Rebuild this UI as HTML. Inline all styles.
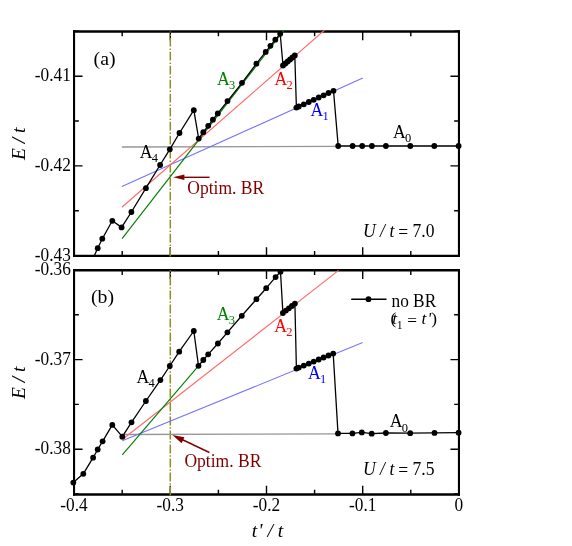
<!DOCTYPE html>
<html><head><meta charset="utf-8"><title>chart</title>
<style>
html,body{margin:0;padding:0;background:#fff;}
body{width:572px;height:546px;position:relative;overflow:hidden;font-family:"Liberation Serif",serif;}
#w{position:absolute;left:0;top:0;width:572px;height:546px;will-change:transform;}
svg text{font-family:"Liberation Serif",serif;}
</style></head><body><div id="w">
<svg width="572" height="546" viewBox="0 0 572 546" style="position:absolute;left:0;top:0"><defs><clipPath id="ca"><rect x="70.05" y="30.3" width="392.9" height="226.8"/></clipPath><clipPath id="cb"><rect x="70.05" y="269.1" width="392.9" height="226.6"/></clipPath></defs><g stroke="#000" stroke-width="1.4" fill="none"><path d="M74.0 31.5v8.7M74.0 255.9v-8.7"/><path d="M122.2 31.5v4.8M122.2 255.9v-4.8"/><path d="M170.3 31.5v8.7M170.3 255.9v-8.7"/><path d="M218.4 31.5v4.8M218.4 255.9v-4.8"/><path d="M266.5 31.5v8.7M266.5 255.9v-8.7"/><path d="M314.6 31.5v4.8M314.6 255.9v-4.8"/><path d="M362.7 31.5v8.7M362.7 255.9v-8.7"/><path d="M410.8 31.5v4.8M410.8 255.9v-4.8"/><path d="M458.9 31.5v8.7M458.9 255.9v-8.7"/><path d="M74.05 31.2h4.8M458.95 31.2h-4.8"/><path d="M74.05 76.2h8.5M458.95 76.2h-8.5"/><path d="M74.05 121.0h4.8M458.95 121.0h-4.8"/><path d="M74.05 165.9h8.5M458.95 165.9h-8.5"/><path d="M74.05 210.8h4.8M458.95 210.8h-4.8"/><path d="M74.05 255.8h8.5M458.95 255.8h-8.5"/></g><path d="M73.0 31.5H460.0M73.0 255.9H460.0" stroke="#000" stroke-width="2.4" fill="none"/><path d="M74.05 30.3V257.1M458.95 30.3V257.1" stroke="#000" stroke-width="2.1" fill="none"/><g clip-path="url(#ca)"><line x1="170.3" y1="31.5" x2="170.3" y2="257.9" stroke="#8f8f1c" stroke-width="1.5" stroke-dasharray="8.8 1.9 1.4 1.9" stroke-dashoffset="7.7"/><line x1="121.9" y1="147.0" x2="338.2" y2="146.3" stroke="#969696" stroke-width="1.3"/><line x1="121.9" y1="186.5" x2="362.8" y2="78.1" stroke="#7474ff" stroke-width="1.1"/><line x1="121.9" y1="207.3" x2="326.6" y2="28.3" stroke="#ff6a6a" stroke-width="1.15"/><line x1="122.1" y1="238.6" x2="284.5" y2="29.6" stroke="#008000" stroke-width="1.15"/><polyline points="91.5,262.0 97.7,248.2 102.3,238.7 112.3,220.8 121.6,227.4 131.4,212.0 145.9,188.2 160.1,165.0 169.8,149.3 179.5,133.0 193.8,110.2 198.7,138.6 203.3,132.2 208.2,125.8 212.9,119.7 217.8,113.4 227.5,101.1 242.0,82.8 256.4,63.7 265.7,51.9 270.4,45.8 275.3,39.7 280.2,33.8 283.0,65.5 285.4,63.5 287.7,61.5 290.1,59.5 292.4,57.5 294.8,55.5 296.4,107.6 298.8,106.5 303.8,104.3 308.8,102.0 313.7,99.8 318.7,97.5 323.6,95.3 328.5,93.0 333.5,90.8 338.2,146.0 352.6,146.0 362.2,146.0 371.9,146.0 385.9,146.0 410.3,146.0 434.3,146.0 458.6,146.0" fill="none" stroke="#000" stroke-width="1.3" stroke-linejoin="round"/><circle cx="97.7" cy="248.2" r="2.9"/><circle cx="102.3" cy="238.7" r="2.9"/><circle cx="112.3" cy="220.8" r="2.9"/><circle cx="121.6" cy="227.4" r="2.9"/><circle cx="131.4" cy="212.0" r="2.9"/><circle cx="145.9" cy="188.2" r="2.9"/><circle cx="160.1" cy="165.0" r="2.9"/><circle cx="169.8" cy="149.3" r="2.9"/><circle cx="179.5" cy="133.0" r="2.9"/><circle cx="193.8" cy="110.2" r="2.9"/><circle cx="198.7" cy="138.6" r="2.9"/><circle cx="203.3" cy="132.2" r="2.9"/><circle cx="208.2" cy="125.8" r="2.9"/><circle cx="212.9" cy="119.7" r="2.9"/><circle cx="217.8" cy="113.4" r="2.9"/><circle cx="227.5" cy="101.1" r="2.9"/><circle cx="242.0" cy="82.8" r="2.9"/><circle cx="256.4" cy="63.7" r="2.9"/><circle cx="265.7" cy="51.9" r="2.9"/><circle cx="270.4" cy="45.8" r="2.9"/><circle cx="275.3" cy="39.7" r="2.9"/><circle cx="280.2" cy="33.8" r="2.9"/><circle cx="283.0" cy="65.5" r="2.9"/><circle cx="285.4" cy="63.5" r="2.9"/><circle cx="287.7" cy="61.5" r="2.9"/><circle cx="290.1" cy="59.5" r="2.9"/><circle cx="292.4" cy="57.5" r="2.9"/><circle cx="294.8" cy="55.5" r="2.9"/><circle cx="296.4" cy="107.6" r="2.9"/><circle cx="298.8" cy="106.5" r="2.9"/><circle cx="303.8" cy="104.3" r="2.9"/><circle cx="308.8" cy="102.0" r="2.9"/><circle cx="313.7" cy="99.8" r="2.9"/><circle cx="318.7" cy="97.5" r="2.9"/><circle cx="323.6" cy="95.3" r="2.9"/><circle cx="328.5" cy="93.0" r="2.9"/><circle cx="333.5" cy="90.8" r="2.9"/><circle cx="338.2" cy="146.0" r="2.9"/><circle cx="352.6" cy="146.0" r="2.9"/><circle cx="362.2" cy="146.0" r="2.9"/><circle cx="371.9" cy="146.0" r="2.9"/><circle cx="385.9" cy="146.0" r="2.9"/><circle cx="410.3" cy="146.0" r="2.9"/><circle cx="434.3" cy="146.0" r="2.9"/><circle cx="458.6" cy="146.0" r="2.9"/></g><g stroke="#800000" fill="#800000"><line x1="183" y1="177.3" x2="209.6" y2="177.3" stroke-width="1.4"/><path d="M173.1 177.3L184.4 174.5V180.1Z" stroke="none"/></g><g stroke="#000" stroke-width="1.4" fill="none"><path d="M74.0 270.3v8.7M74.0 494.5v-8.7"/><path d="M122.2 270.3v4.8M122.2 494.5v-4.8"/><path d="M170.3 270.3v8.7M170.3 494.5v-8.7"/><path d="M218.4 270.3v4.8M218.4 494.5v-4.8"/><path d="M266.5 270.3v8.7M266.5 494.5v-8.7"/><path d="M314.6 270.3v4.8M314.6 494.5v-4.8"/><path d="M362.7 270.3v8.7M362.7 494.5v-8.7"/><path d="M410.8 270.3v4.8M410.8 494.5v-4.8"/><path d="M458.9 270.3v8.7M458.9 494.5v-8.7"/><path d="M74.05 270.0h8.5M458.95 270.0h-8.5"/><path d="M74.05 314.8h4.8M458.95 314.8h-4.8"/><path d="M74.05 359.6h8.5M458.95 359.6h-8.5"/><path d="M74.05 404.4h4.8M458.95 404.4h-4.8"/><path d="M74.05 449.2h8.5M458.95 449.2h-8.5"/><path d="M74.05 494.0h4.8M458.95 494.0h-4.8"/></g><path d="M73.0 270.3H460.0M73.0 494.5H460.0" stroke="#000" stroke-width="2.4" fill="none"/><path d="M74.05 269.1V495.7M458.95 269.1V495.7" stroke="#000" stroke-width="2.1" fill="none"/><g clip-path="url(#cb)"><line x1="170.3" y1="270.3" x2="170.3" y2="496.5" stroke="#8f8f1c" stroke-width="1.5" stroke-dasharray="8.8 1.9 1.4 1.9" stroke-dashoffset="7.7"/><line x1="122.3" y1="434.5" x2="338.0" y2="433.8" stroke="#969696" stroke-width="1.3"/><line x1="122.3" y1="440.8" x2="362.7" y2="342.6" stroke="#7474ff" stroke-width="1.1"/><line x1="122.3" y1="439.5" x2="338.6" y2="270.4" stroke="#ff6a6a" stroke-width="1.15"/><line x1="122.3" y1="454.9" x2="198.5" y2="365.8" stroke="#008000" stroke-width="1.15"/><polyline points="73.3,482.6 83.3,473.8 93.1,457.7 97.7,449.5 102.6,441.3 112.3,424.9 122.3,436.7 131.5,422.3 145.9,401.0 160.4,380.1 169.8,366.0 179.2,351.7 193.8,331.0 198.5,365.8 203.3,360.0 208.2,354.3 217.9,343.5 227.4,332.3 241.8,315.8 256.4,299.2 266.2,288.2 275.6,277.1 280.5,271.7 282.9,313.0 285.9,310.6 288.9,308.3 291.9,306.0 294.9,303.6 296.4,368.6 298.8,367.6 303.8,365.6 308.8,363.6 313.7,361.6 318.7,359.5 323.6,357.5 328.5,355.5 333.2,353.6 338.0,433.4 352.4,433.4 361.8,432.4 371.7,433.7 385.9,433.0 410.2,433.2 434.5,432.9 458.6,432.7" fill="none" stroke="#000" stroke-width="1.3" stroke-linejoin="round"/><circle cx="73.3" cy="482.6" r="2.9"/><circle cx="83.3" cy="473.8" r="2.9"/><circle cx="93.1" cy="457.7" r="2.9"/><circle cx="97.7" cy="449.5" r="2.9"/><circle cx="102.6" cy="441.3" r="2.9"/><circle cx="112.3" cy="424.9" r="2.9"/><circle cx="122.3" cy="436.7" r="2.9"/><circle cx="131.5" cy="422.3" r="2.9"/><circle cx="145.9" cy="401.0" r="2.9"/><circle cx="160.4" cy="380.1" r="2.9"/><circle cx="169.8" cy="366.0" r="2.9"/><circle cx="179.2" cy="351.7" r="2.9"/><circle cx="193.8" cy="331.0" r="2.9"/><circle cx="198.5" cy="365.8" r="2.9"/><circle cx="203.3" cy="360.0" r="2.9"/><circle cx="208.2" cy="354.3" r="2.9"/><circle cx="217.9" cy="343.5" r="2.9"/><circle cx="227.4" cy="332.3" r="2.9"/><circle cx="241.8" cy="315.8" r="2.9"/><circle cx="256.4" cy="299.2" r="2.9"/><circle cx="266.2" cy="288.2" r="2.9"/><circle cx="275.6" cy="277.1" r="2.9"/><circle cx="280.5" cy="271.7" r="2.9"/><circle cx="282.9" cy="313.0" r="2.9"/><circle cx="285.9" cy="310.6" r="2.9"/><circle cx="288.9" cy="308.3" r="2.9"/><circle cx="291.9" cy="306.0" r="2.9"/><circle cx="294.9" cy="303.6" r="2.9"/><circle cx="296.4" cy="368.6" r="2.9"/><circle cx="298.8" cy="367.6" r="2.9"/><circle cx="303.8" cy="365.6" r="2.9"/><circle cx="308.8" cy="363.6" r="2.9"/><circle cx="313.7" cy="361.6" r="2.9"/><circle cx="318.7" cy="359.5" r="2.9"/><circle cx="323.6" cy="357.5" r="2.9"/><circle cx="328.5" cy="355.5" r="2.9"/><circle cx="333.2" cy="353.6" r="2.9"/><circle cx="338.0" cy="433.4" r="2.9"/><circle cx="352.4" cy="433.4" r="2.9"/><circle cx="361.8" cy="432.4" r="2.9"/><circle cx="371.7" cy="433.7" r="2.9"/><circle cx="385.9" cy="433.0" r="2.9"/><circle cx="410.2" cy="433.2" r="2.9"/><circle cx="434.5" cy="432.9" r="2.9"/><circle cx="458.6" cy="432.7" r="2.9"/></g><g stroke="#800000" fill="#800000"><line x1="181" y1="439" x2="209.4" y2="452.5" stroke-width="1.4"/><path d="M172.4 435L184.4 437.2L181.6 443.2Z" stroke="none"/></g><line x1="351.2" y1="299.2" x2="386.5" y2="299.2" stroke="#000" stroke-width="1.5"/><circle cx="368.5" cy="299.2" r="2.9"/><g font-family="Liberation Serif, serif" style="white-space:pre"><text fill="#000" font-size="17.3" text-anchor="end" transform="translate(70.8 81.1) scale(1 1.07)">-0.41</text><text fill="#000" font-size="17.3" text-anchor="end" transform="translate(70.8 170.8) scale(1 1.07)">-0.42</text><text fill="#000" font-size="17.3" text-anchor="end" transform="translate(70.8 260.6) scale(1 1.07)">-0.43</text><text fill="#000" font-size="17.3" text-anchor="end" transform="translate(70.8 275.0) scale(1 1.07)">-0.36</text><text fill="#000" font-size="17.3" text-anchor="end" transform="translate(70.8 364.7) scale(1 1.07)">-0.37</text><text fill="#000" font-size="17.3" text-anchor="end" transform="translate(70.8 454.4) scale(1 1.07)">-0.38</text><text fill="#000" font-size="17.3" text-anchor="middle" transform="translate(74.0 510.7) scale(1 1.07)">-0.4</text><text fill="#000" font-size="17.3" text-anchor="middle" transform="translate(170.3 510.7) scale(1 1.07)">-0.3</text><text fill="#000" font-size="17.3" text-anchor="middle" transform="translate(266.5 510.7) scale(1 1.07)">-0.2</text><text fill="#000" font-size="17.3" text-anchor="middle" transform="translate(362.7 510.7) scale(1 1.07)">-0.1</text><text fill="#000" font-size="17.3" text-anchor="middle" transform="translate(458.9 510.7) scale(1 1.07)">0</text><text fill="#000" font-size="19.8" text-anchor="start" transform="translate(93.6 65.4) scale(1 0.97)">(a)</text><text fill="#000" font-size="19.8" text-anchor="start" transform="translate(91.0 303.4) scale(1 0.97)">(b)</text><text fill="#008000" font-size="17.7" text-anchor="start" transform="translate(217.0 85.0) scale(1 1.01)">A<tspan font-size="12.5" dy="4.1" dx="-0.7">3</tspan></text><text fill="#ff0000" font-size="17.7" text-anchor="start" transform="translate(274.5 84.5) scale(1 1.01)">A<tspan font-size="12.5" dy="4.1" dx="-0.7">2</tspan></text><text fill="#0000ff" font-size="17.7" text-anchor="start" transform="translate(310.5 116.0) scale(1 1.01)">A<tspan font-size="12.5" dy="4.1" dx="-0.7">1</tspan></text><text fill="#000" font-size="17.7" text-anchor="start" transform="translate(393.0 138.0) scale(1 1.01)">A<tspan font-size="12.5" dy="4.1" dx="-0.7">0</tspan></text><text fill="#000" font-size="17.7" text-anchor="start" transform="translate(139.7 157.9) scale(1 1.01)">A<tspan font-size="12.5" dy="4.1" dx="-0.7">4</tspan></text><text fill="#800000" font-size="17.55" text-anchor="start" transform="translate(187.3 194.2) scale(1 1.07)">Optim. BR</text><text fill="#000" font-size="17.6" text-anchor="start" transform="translate(363.0 237.2) scale(1 1.05)"><tspan font-style="italic">U / t</tspan><tspan dy='1' dx='-0.5'> = </tspan><tspan dy='-1'>7.0</tspan></text><text fill="#008000" font-size="17.7" text-anchor="start" transform="translate(216.8 320.2) scale(1 1.01)">A<tspan font-size="12.5" dy="4.1" dx="-0.7">3</tspan></text><text fill="#ff0000" font-size="17.7" text-anchor="start" transform="translate(274.3 332.1) scale(1 1.01)">A<tspan font-size="12.5" dy="4.1" dx="-0.7">2</tspan></text><text fill="#0000ff" font-size="17.7" text-anchor="start" transform="translate(307.9 379.2) scale(1 1.01)">A<tspan font-size="12.5" dy="4.1" dx="-0.7">1</tspan></text><text fill="#000" font-size="17.7" text-anchor="start" transform="translate(389.8 427.4) scale(1 1.01)">A<tspan font-size="12.5" dy="4.1" dx="-0.7">0</tspan></text><text fill="#000" font-size="17.7" text-anchor="start" transform="translate(136.4 382.6) scale(1 1.01)">A<tspan font-size="12.5" dy="4.1" dx="-0.7">4</tspan></text><text fill="#800000" font-size="17.55" text-anchor="start" transform="translate(184.4 467.0) scale(1 1.07)">Optim. BR</text><text fill="#000" font-size="17.6" text-anchor="start" transform="translate(363.0 475.2) scale(1 1.05)"><tspan font-style="italic">U / t</tspan><tspan dy='1' dx='-0.5'> = </tspan><tspan dy='-1'>7.5</tspan></text><text fill="#000" font-size="17.3" text-anchor="start" transform="translate(391.5 306.7) scale(1 1.07)">no BR</text><text fill="#000" font-size="17.3" text-anchor="start" transform="translate(390.6 324.3) scale(1 1.01)">(<tspan font-style="italic" dx="-4">t</tspan><tspan font-size="11.8" dy="4.4" dx="-0.3">1</tspan><tspan dy="-2.6" dx="0.1"> = </tspan><tspan font-style="italic" dx="0.2" dy="-1.8">t</tspan><tspan font-style="italic" dx="1.2">'</tspan><tspan dx="0.1">)</tspan></text><text fill="#000" font-size="19.7" text-anchor="middle" transform="translate(267.5 537.0) scale(1 1.0)"><tspan font-style='italic'>t<tspan dx='1'>'</tspan> / t</tspan></text><text fill="#000" font-size="19.5" text-anchor="middle" transform="translate(25.0 143.8) rotate(-90) scale(1 1.0)"><tspan font-style="italic">E / t</tspan></text><text fill="#000" font-size="19.5" text-anchor="middle" transform="translate(25.0 382.8) rotate(-90) scale(1 1.0)"><tspan font-style="italic">E / t</tspan></text></g></svg>
</div></body></html>
